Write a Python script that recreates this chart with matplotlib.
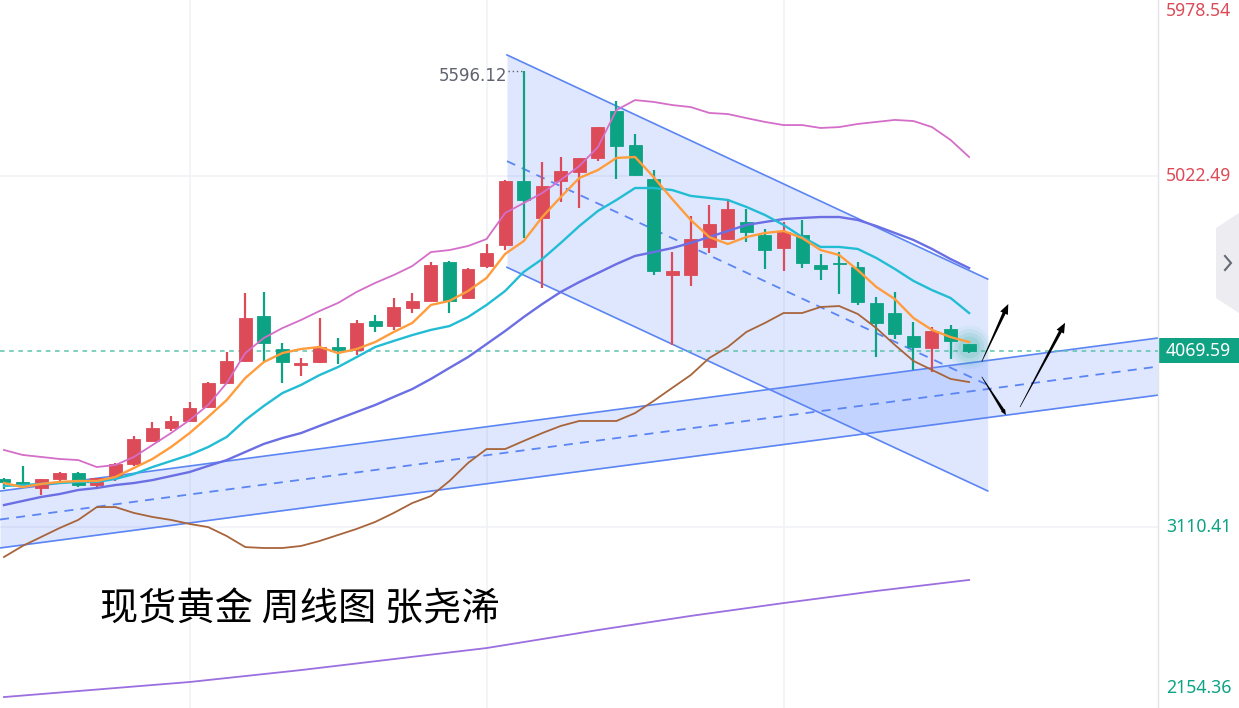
import numpy as np
import matplotlib
matplotlib.use('Agg')
from matplotlib import pyplot as plt
from matplotlib.patches import Polygon, Rectangle
from matplotlib.transforms import IdentityTransform

# weekly candles (spot gold)
opens = [3370, 3354, 3321, 3370, 3403, 3339, 3381, 3454, 3581, 3648, 3689, 3762, 3893, 4015, 4260, 4080, 3993, 4008,
         4089, 4075, 4234, 4205, 4305, 4343, 4556, 4360, 4532, 4647, 4995, 4792, 4997, 5046, 5119, 5378, 5191, 5005,
         4483, 4483, 4637, 4678, 4774, 4701, 4629, 4701, 4536, 4547, 4528, 4332, 4275, 4153, 4084, 4187, 4106]
highs = [3379, 3443, 3372, 3412, 3410, 3377, 3460, 3606, 3681, 3715, 3793, 3899, 4065, 4383, 4391, 4111, 4029, 4251,
         4138, 4238, 4265, 4360, 4383, 4552, 4560, 4520, 4652, 5000, 5596.12, 5100, 5124, 5122, 5292, 5431, 5250, 5055,
         4610, 4806, 4865, 4896, 4843, 4732, 4774, 4783, 4598, 4607, 4556, 4365, 4389, 4226, 4202, 4211, 4110]
lows = [3316, 3330, 3283, 3361, 3330, 3316, 3363, 3443, 3578, 3633, 3688, 3759, 3889, 4009, 4011, 3893, 3933, 4004,
        3998, 4047, 4171, 4184, 4278, 4342, 4278, 4352, 4523, 4619, 4683, 4411, 4882, 4850, 5106, 5006, 5022, 4483,
        4102, 4425, 4605, 4674, 4663, 4514, 4507, 4523, 4456, 4378, 4320, 4035, 4133, 3966, 3956, 4024, 4060]
closes = [3356, 3339, 3370, 3403, 3339, 3376, 3454, 3590, 3648, 3688, 3760, 3893, 4015, 4251, 4114, 4008, 4005, 4089,
          4075, 4220, 4205, 4311, 4342, 4538, 4343, 4514, 4601, 4995, 4892, 4970, 5051, 5119, 5288, 5186, 5028, 4507,
          4505, 4678, 4759, 4841, 4719, 4619, 4719, 4550, 4518, 4541, 4338, 4223, 4162, 4093, 4178, 4125, 4069.59]

# moving averages / bands
ma5 = [3350, 3328, 3345, 3356, 3361, 3361, 3383, 3432, 3481, 3546, 3622, 3710, 3802, 3922, 4009, 4058, 4080, 4091,
       4058, 4080, 4118, 4173, 4222, 4320, 4342, 4396, 4467, 4598, 4668, 4799, 4908, 5012, 5055, 5121, 5126, 5017,
       4897, 4783, 4690, 4652, 4690, 4712, 4723, 4685, 4619, 4592, 4510, 4418, 4352, 4249, 4184, 4145, 4118]
ma10 = [3334, 3339, 3345, 3350, 3356, 3356, 3372, 3399, 3437, 3470, 3503, 3546, 3601, 3693, 3770, 3840, 3884, 3938,
        3982, 4036, 4091, 4124, 4156, 4184, 4205, 4254, 4320, 4396, 4500, 4570, 4658, 4750, 4832, 4892, 4957, 4957,
        4946, 4914, 4903, 4892, 4854, 4810, 4756, 4690, 4636, 4636, 4625, 4576, 4516, 4451, 4401, 4358, 4276]
ma20 = [3230, 3252, 3274, 3290, 3312, 3323, 3339, 3350, 3366, 3388, 3410, 3443, 3475, 3519, 3563, 3595, 3622, 3661,
        3699, 3737, 3775, 3819, 3862, 3917, 3977, 4036, 4107, 4178, 4254, 4325, 4391, 4445, 4494, 4543, 4587, 4608,
        4630, 4658, 4690, 4723, 4756, 4772, 4788, 4794, 4799, 4799, 4783, 4750, 4712, 4674, 4625, 4570, 4521]
boll_up = [3530, 3503, 3492, 3481, 3475, 3437, 3448, 3492, 3557, 3622, 3693, 3775, 3895, 4058, 4140, 4194, 4238, 4287,
           4331, 4391, 4440, 4483, 4532, 4608, 4619, 4641, 4679, 4821, 4875, 4930, 5001, 5077, 5180, 5382, 5436, 5426,
           5409, 5398, 5366, 5360, 5338, 5317, 5300, 5300, 5284, 5289, 5306, 5317, 5328, 5322, 5289, 5219, 5126]
boll_dn = [2947, 3007, 3056, 3105, 3149, 3219, 3219, 3187, 3165, 3149, 3127, 3110, 3061, 3001, 2996, 2996, 3007, 3034,
           3067, 3100, 3138, 3187, 3241, 3279, 3361, 3459, 3535, 3535, 3579, 3622, 3661, 3688, 3688, 3688, 3731, 3797,
           3868, 3938, 4031, 4091, 4173, 4222, 4276, 4276, 4309, 4314, 4271, 4194, 4102, 4015, 3966, 3917, 3900]
ma_long_idx = [0, 10, 16, 21, 26, 32, 37, 42, 47, 52]
ma_long = [2184, 2266, 2331, 2391, 2451, 2549, 2626, 2696, 2762, 2822]

# drawn channels (anchor index, price)
up_chan_idx = [0, 52]
up_chan_top = [3309, 4004]
up_chan_bot = [2999, 3693]
down_chan_idx = [27.1, 53.0]
down_chan_top = [5682, 4461]
down_chan_bot = [4525, 3307]

# hand drawn arrows: (start idx, start price, end idx, end price)
arrows = [(52.68, 4011, 54.11, 4325), (52.68, 3929, 53.99, 3720), (54.74, 3764, 57.17, 4223)]

last_price = 4069.59
peak_price = 5596.12
peak_idx = 28
axis_values = [5978.54, 5022.49, 3110.41, 2154.36]
axis_labels = ['5978.54', '5022.49', '3110.41', '2154.36']
grid_idx = [10, 26, 42]
title = '现货黄金 周线图 张尧浠'

UP = '#dc4b57'
DOWN = '#0ca384'
CHAN = '#5b85f3'
FILL = (0.16, 0.38, 1.0, 0.15)

W, H = 1239, 708
fig = plt.figure(figsize=(W / 100, H / 100), dpi=100)
ax = fig.add_axes([0, 0, 1158 / W, 1])
ax.set_xlim(-0.2155, 62.177)
ax.set_ylim(2124.4, 5981.25)
ax.axis('off')

# grid
for g in grid_idx:
    ax.axvline(g, color='#f0f2f7', lw=1.2, zorder=0)
for v in axis_values[1:3]:
    ax.axhline(v, color='#f0f2f7', lw=1.2, zorder=0)

# ascending channel over the whole width
x0, x1 = ax.get_xlim()
xs = np.array([x0, x1])
def line_at(idx, vals, x):
    k = (vals[1] - vals[0]) / (idx[1] - idx[0])
    return vals[0] + k * (x - idx[0])
ut = line_at(up_chan_idx, up_chan_top, xs)
ub = line_at(up_chan_idx, up_chan_bot, xs)
ax.fill_between(xs, ub, ut, color=FILL, lw=0, zorder=1)
ax.plot(xs, ut, color=CHAN, lw=1.2, zorder=2)
ax.plot(xs, ub, color=CHAN, lw=1.2, zorder=2)
ax.plot(xs, (ut + ub) / 2, color=CHAN, lw=1.3, ls=(0, (5, 4)), zorder=2)

# descending channel
dx = np.array(down_chan_idx)
dt = np.array(down_chan_top)
db = np.array(down_chan_bot)
ax.fill_between(dx, db, dt, color=FILL, lw=0, zorder=1)
ax.plot(dx, dt, color=CHAN, lw=1.2, zorder=2)
ax.plot(dx, db, color=CHAN, lw=1.2, zorder=2)
ax.plot(dx, (dt + db) / 2, color=CHAN, lw=1.3, ls=(0, (5, 4)), zorder=2)

# last price line
ax.axhline(last_price, color='#5cc2ae', lw=1.1, ls=(0, (3, 3)), zorder=2)

# candles
n = len(opens)
idx = np.arange(n)
o = np.array(opens, float)
c = np.array(closes, float)
up = c >= o
cols = np.where(up, UP, DOWN)
ax.vlines(idx, lows, highs, colors=cols, lw=1.6, zorder=3)
body = np.maximum(np.abs(c - o), 8)
ax.bar(idx, body, bottom=np.minimum(o, c), width=0.7, color=cols, edgecolor=cols, lw=0.6, zorder=3)

# glow on the live candle
for s, a in [(1000, 0.06), (700, 0.08), (450, 0.1), (250, 0.12)]:
    ax.scatter([n - 1], [4090], s=s, color='#17a98b', alpha=a, lw=0, zorder=4)

# averages and bands
ax.plot(idx, boll_up, color='#d46ec8', lw=1.3, zorder=4)
ax.plot(idx, boll_dn, color='#a8643a', lw=1.3, zorder=4)
ax.plot(idx, ma20, color='#6b6fe3', lw=1.7, zorder=4)
ax.plot(idx, ma10, color='#22bdd4', lw=1.7, zorder=4)
ax.plot(idx, ma5, color='#ff9d3c', lw=1.7, zorder=4)
ax.plot(ma_long_idx, ma_long, color='#9b6fe0', lw=1.3, zorder=4)

# peak label
ax.plot([peak_idx - 0.85, peak_idx - 0.1], [peak_price, peak_price], color='#5f6370', lw=1, ls=(0, (1, 2)), zorder=4)
ax.annotate('5596.12', xy=(peak_idx - 0.9, peak_price), xytext=(0, -5), textcoords='offset pixels',
            ha='right', va='center', fontsize=12, color='#5f6370', family='DejaVu Sans')

# arrows (tapered, in pixel space)
def taper_arrow(x0_, y0_, x1_, y1_, hw):
    p0 = ax.transData.transform((x0_, y0_))
    p1 = ax.transData.transform((x1_, y1_))
    d = p1 - p0
    u = d / np.hypot(*d)
    nrm = np.array([-u[1], u[0]])
    hl = hw * 2.4
    base = p1 - u * hl
    pts = [p0 + nrm * 0.3, base + nrm * 1.6, base + nrm * hw, p1,
           base - nrm * hw, base - nrm * 1.6, p0 - nrm * 0.3]
    ax.add_patch(Polygon(pts, closed=True, transform=IdentityTransform(), color='black', lw=0, zorder=6))

for i, (a0, b0, a1, b1) in enumerate(arrows):
    taper_arrow(a0, b0, a1, b1, 2.4 if i == 1 else 4.2)

# title
fig.text(100 / W, 1 - 610 / H, title, ha='left', va='center',
         fontsize=27.5, color='black', family=['Noto Sans CJK SC', 'DejaVu Sans'])

# right price scale
fig.add_artist(plt.Line2D([1158 / W, 1158 / W], [0, 1], color='#e2e4ea', lw=1))
offsets = [-11, 0, 0, 15]
for v, lab, off in zip(axis_values, axis_labels, offsets):
    col = UP if v > last_price else DOWN
    ax.annotate(lab, xy=(1, v), xycoords=('axes fraction', 'data'), xytext=(8, off), textcoords='offset pixels',
                ha='left', va='center', fontsize=12.7, color=col, family='Noto Sans', annotation_clip=False)

yl = ax.get_ylim()
yf = (last_price - yl[0]) / (yl[1] - yl[0])
fig.add_artist(Rectangle((1158 / W, yf - 12.5 / H), 81 / W, 25 / H, transform=fig.transFigure,
                         color='#0fa283', lw=0))
fig.text(1166 / W, yf, '4069.59', ha='left', va='center', fontsize=12.7, color='white', family='Noto Sans')

# collapse tab on the right edge
tab = [(1239, 213), (1216, 228), (1216, 298), (1239, 313)]
fig.add_artist(Polygon([(x / W, 1 - y / H) for x, y in tab], closed=True, transform=fig.transFigure,
                       color='#ececf1', lw=0))
chev = [(1225, 256), (1231, 263), (1225, 270)]
fig.add_artist(plt.Line2D([x / W for x, y in chev], [1 - y / H for x, y in chev],
                          color='#666a75', lw=1.5, solid_joinstyle='miter'))

fig.savefig('out.png', dpi=100)
